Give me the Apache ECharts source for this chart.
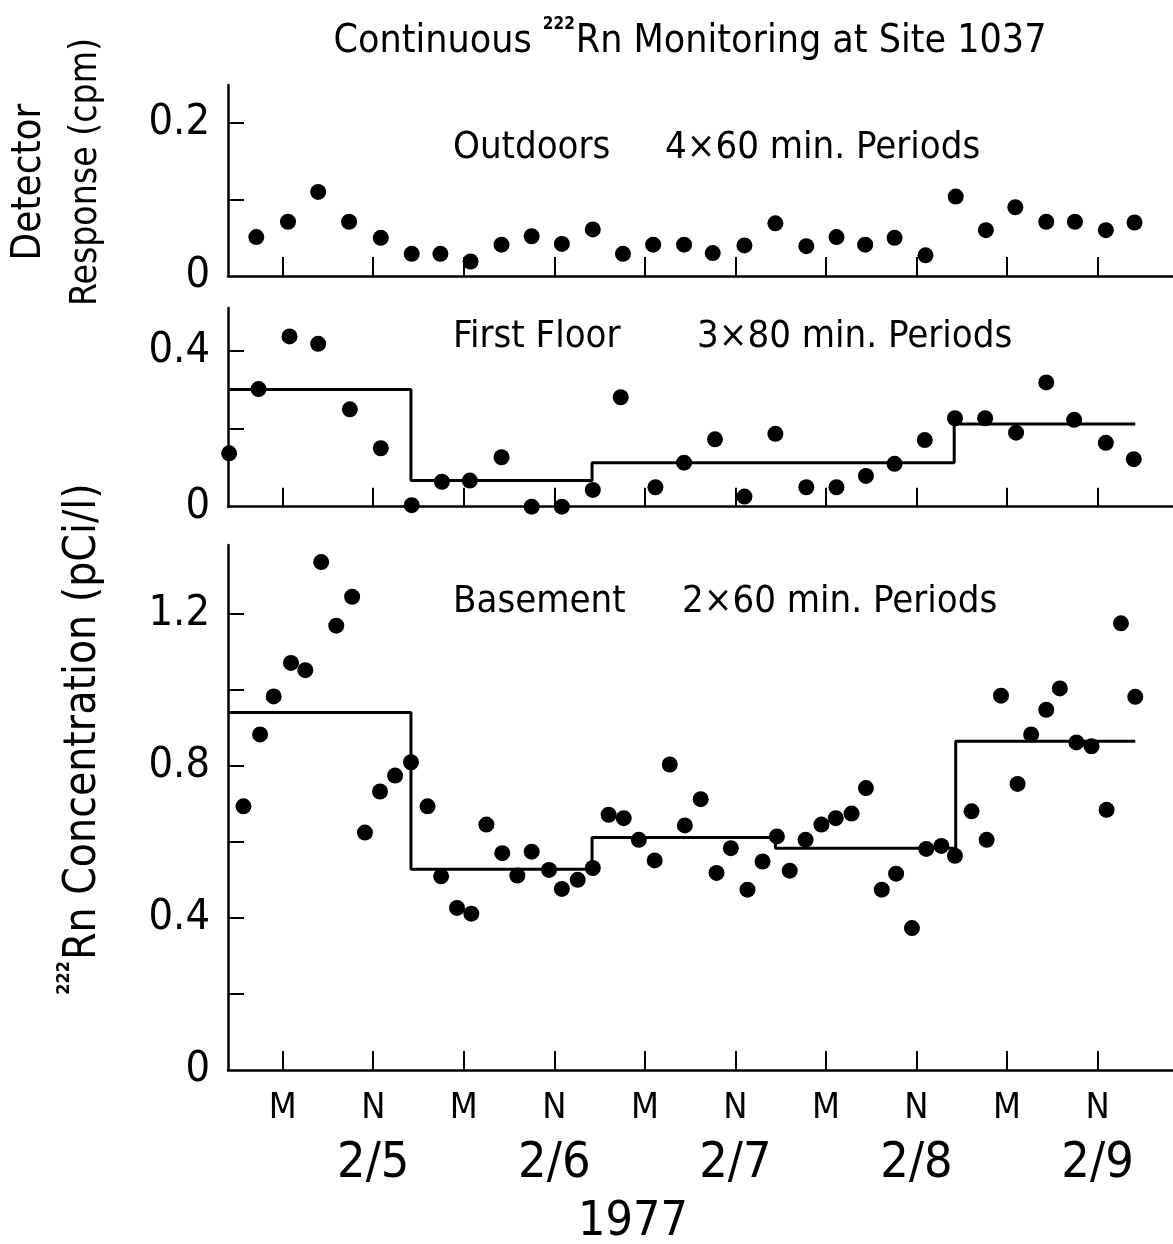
<!DOCTYPE html>
<html>
<head>
<meta charset="utf-8">
<title>Continuous 222Rn Monitoring at Site 1037</title>
<script src="https://cdn.jsdelivr.net/npm/echarts@6/dist/echarts.min.js"></script>
<style>
  html, body { margin: 0; padding: 0; background: #fff; }
  #chart { width: 1173px; height: 1244px; }
</style>
</head>
<body>
<div id="chart"></div>
<script>
// time in hours, 0 = the first midnight (M) on the axis
const tickHours = [0, 12, 24, 36, 48, 60, 72, 84, 96, 108];
const tickNames = ['M', 'N', 'M', 'N', 'M', 'N', 'M', 'N', 'M', 'N'];
const dateNames = ['', '2/5', '', '2/6', '', '2/7', '', '2/8', '', '2/9'];

// Outdoors, detector response (cpm), 4x60 min periods
const outdoorHours = [-3.5, 0.7, 4.7, 8.8, 13.0, 17.1, 20.9, 24.9, 29.0, 33.0, 37.0, 41.1, 45.1, 49.1, 53.2,
  57.0, 61.2, 65.3, 69.4, 73.4, 77.2, 81.1, 85.2, 89.2, 93.2, 97.1, 101.2, 105.0, 109.1, 112.9];
const outdoorCpm = [0.051, 0.071, 0.110, 0.071, 0.050, 0.029, 0.029, 0.019, 0.041, 0.052, 0.042, 0.061, 0.029, 0.041, 0.041,
  0.030, 0.040, 0.069, 0.039, 0.051, 0.041, 0.050, 0.027, 0.104, 0.060, 0.090, 0.071, 0.071, 0.060, 0.070];

// First floor, pCi/l, 3x80 min periods
const firstHours = [-7.1, -3.2, 0.9, 4.7, 8.9, 13.0, 17.1, 21.1, 24.8, 29.0, 33.0, 37.0, 41.1, 44.8, 49.4, 53.2,
  57.3, 61.2, 65.3, 69.4, 73.4, 77.3, 81.1, 85.1, 89.1, 93.1, 97.2, 101.2, 104.9, 109.1, 112.8];
const firstConc = [0.137, 0.302, 0.437, 0.418, 0.250, 0.150, 0.004, 0.064, 0.067, 0.127, 0.000, 0.000, 0.043, 0.281, 0.050, 0.113,
  0.173, 0.026, 0.187, 0.050, 0.050, 0.079, 0.110, 0.171, 0.227, 0.227, 0.190, 0.319, 0.223, 0.164, 0.122];
const firstStepEdges = [-7.2, 17, 41, 89, 113];
const firstStepMeans = [0.301, 0.067, 0.113, 0.212];

// Basement, pCi/l, 2x60 min periods
const baseHours = [-5.2, -3.0, -1.2, 1.1, 3.0, 5.1, 7.1, 9.2, 10.9, 12.9, 14.9, 17.0, 19.2, 21.0, 23.1, 25.0, 27.0, 29.1, 31.1, 33.0,
  35.3, 37.0, 39.1, 41.1, 43.2, 45.2, 47.2, 49.3, 51.3, 53.3, 55.4, 57.5, 59.4, 61.6, 63.6, 65.5, 67.2, 69.3, 71.4, 73.3,
  75.4, 77.3, 79.4, 81.3, 83.4, 85.3, 87.3, 89.1, 91.3, 93.3, 95.2, 97.4, 99.2, 101.2, 103.0, 105.2, 107.2, 109.2, 111.1, 113.0];
const baseConc = [0.693, 0.882, 0.982, 1.070, 1.051, 1.335, 1.168, 1.244, 0.624, 0.732, 0.774, 0.809, 0.693, 0.509, 0.426, 0.411, 0.645, 0.570, 0.511, 0.574,
  0.526, 0.476, 0.500, 0.531, 0.671, 0.662, 0.605, 0.551, 0.803, 0.643, 0.712, 0.518, 0.583, 0.474, 0.548, 0.614, 0.524, 0.605, 0.645, 0.662,
  0.674, 0.741, 0.474, 0.516, 0.373, 0.581, 0.589, 0.563, 0.680, 0.605, 0.984, 0.752, 0.882, 0.947, 1.003, 0.861, 0.851, 0.684, 1.174, 0.981];
const baseStepEdges = [-7.2, 17, 41, 65.3, 89.2, 113];
const baseStepMeans = [0.940, 0.528, 0.611, 0.583, 0.864];

const FONT = '"Liberation Sans Narrow", "DejaVu Sans Condensed", "Liberation Sans", sans-serif';

function pairs(xs, ys) {
  return xs.map(function (x, i) { return [x, ys[i]]; });
}
function steps(edges, means) {
  const d = means.map(function (m, i) { return [edges[i], m]; });
  d.push([edges[edges.length - 1], means[means.length - 1]]);
  return d;
}

const axisLine = { show: true, onZero: false, lineStyle: { color: '#000', width: 2.5 } };

function xAxis(gridIndex, withLabels) {
  return {
    type: 'value', gridIndex: gridIndex, min: -7.25, max: 118,
    axisLine: axisLine,
    splitLine: { show: false },
    axisTick: { show: true, inside: true, length: 19, customValues: tickHours, lineStyle: { color: '#000', width: 2 } },
    axisLabel: {
      show: withLabels, customValues: tickHours, margin: 15, color: '#000',
      formatter: function (v) {
        const i = tickHours.indexOf(v);
        return dateNames[i] ? '{m|' + tickNames[i] + '}\n{d|' + dateNames[i] + '}' : '{m|' + tickNames[i] + '}';
      },
      rich: {
        m: { fontSize: 36, fontFamily: FONT, lineHeight: 48, color: '#000' },
        d: { fontSize: 50, fontFamily: FONT, lineHeight: 62, color: '#000' }
      }
    }
  };
}

function yAxis(gridIndex, max, ticks, labels) {
  return {
    type: 'value', gridIndex: gridIndex, min: 0, max: max,
    axisLine: axisLine,
    splitLine: { show: false },
    axisTick: { show: true, inside: true, length: 16, customValues: ticks, lineStyle: { color: '#000', width: 2 } },
    axisLabel: { customValues: labels, margin: 18, color: '#000', fontSize: 43, fontFamily: FONT }
  };
}

function dots(idx, xs, ys) {
  return { type: 'scatter', xAxisIndex: idx, yAxisIndex: idx, data: pairs(xs, ys), symbolSize: 16,
    itemStyle: { color: '#000', opacity: 1 }, silent: true };
}
function stepLine(idx, edges, means) {
  return { type: 'line', xAxisIndex: idx, yAxisIndex: idx, step: 'end', data: steps(edges, means),
    showSymbol: false, lineStyle: { color: '#000', width: 3, opacity: 1 }, silent: true };
}

function label(text, x, y, size, align) {
  return { type: 'text', x: x, y: y, silent: true,
    style: { text: text, font: size + 'px ' + FONT, fill: '#000', align: align || 'left', verticalAlign: 'middle' } };
}

const myChart = echarts.init(document.getElementById('chart'));
const option = {
  animation: false,
  backgroundColor: '#fff',
  grid: [
    { left: 228, right: 0, top: 85, height: 191, outerBoundsMode: 'none' },
    { left: 228, right: 0, top: 308, height: 198.7, outerBoundsMode: 'none' },
    { left: 228, right: 0, top: 545, height: 525, outerBoundsMode: 'none' }
  ],
  xAxis: [xAxis(0, false), xAxis(1, false), xAxis(2, true)],
  yAxis: [
    yAxis(0, 0.25, [0.1, 0.2], [0, 0.2]),
    yAxis(1, 0.51, [0.2, 0.4], [0, 0.4]),
    yAxis(2, 1.38, [0.2, 0.4, 0.6, 0.8, 1.0, 1.2], [0, 0.4, 0.8, 1.2])
  ],
  series: [
    dots(0, outdoorHours, outdoorCpm),
    dots(1, firstHours, firstConc),
    stepLine(1, firstStepEdges, firstStepMeans),
    dots(2, baseHours, baseConc),
    stepLine(2, baseStepEdges, baseStepMeans)
  ],
  graphic: [
    { type: 'text', x: 690, y: 42, silent: true,
      style: { text: '{a|Continuous }{b|222}{a|Rn Monitoring at Site 1037}', align: 'center', verticalAlign: 'middle', fill: '#000',
        rich: {
          a: { fontSize: 39, fontFamily: FONT, color: '#000' },
          b: { fontSize: 17, fontWeight: 'bold', fontFamily: FONT, color: '#000', padding: [0, 1, 34, 0] }
        } } },
    label('Outdoors', 453, 148, 38),
    label('4×60 min. Periods', 665, 148, 38),
    label('First Floor', 453, 337, 38),
    label('3×80 min. Periods', 697, 337, 38),
    label('Basement', 453, 602, 38),
    label('2×60 min. Periods', 682, 602, 38),
    label('1977', 633, 1223, 48, 'center'),
    { type: 'text', x: 30, y: 182, rotation: Math.PI / 2, silent: true,
      style: { text: 'Detector', font: '40px ' + FONT, fill: '#000', align: 'center', verticalAlign: 'middle' } },
    { type: 'text', x: 86, y: 172, rotation: Math.PI / 2, silent: true,
      style: { text: 'Response (cpm)', font: '37px ' + FONT, fill: '#000', align: 'center', verticalAlign: 'middle' } },
    { type: 'text', x: 84, y: 739, rotation: Math.PI / 2, silent: true,
      style: { text: '{b|222}{a|Rn Concentration (pCi/l)}', align: 'center', verticalAlign: 'middle', fill: '#000',
        rich: {
          a: { fontSize: 44, fontFamily: FONT, color: '#000' },
          b: { fontSize: 18, fontWeight: 'bold', fontFamily: FONT, color: '#000', padding: [0, 1, 40, 0] }
        } } }
  ]
};
myChart.setOption(option);
</script>
</body>
</html>
